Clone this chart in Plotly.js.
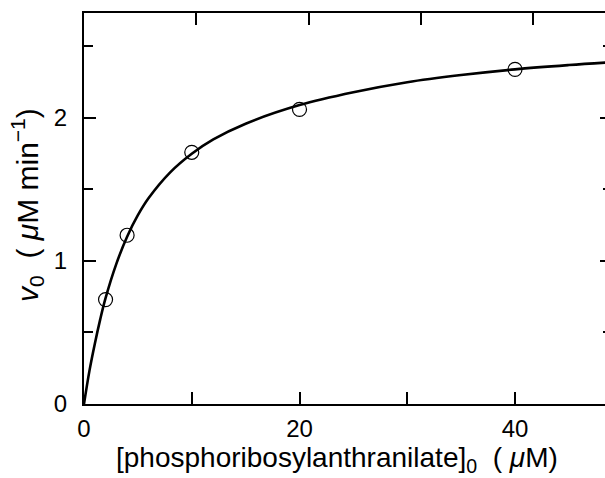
<!DOCTYPE html>
<html>
<head>
<meta charset="utf-8">
<script src="https://cdn.plot.ly/plotly-3.0.1.min.js"></script>
<style>
html, body { margin: 0; padding: 0; overflow: hidden; background: #fff; }
#chart { width: 625px; height: 478px; }
</style>
</head>
<body>
<div id="chart"></div>
<script>
// Measured points
const substrate = [2, 4, 10, 20, 40];
const rate = [0.73, 1.18, 1.76, 2.06, 2.34];

// Fitted curve
const curveX = [0, 0.5, 1, 1.5, 2, 3, 4, 5, 6, 8, 10, 12, 15, 20, 25, 30, 35, 40, 45, 49];
const curveY = [0, 0.23, 0.42, 0.59, 0.74, 0.98, 1.17, 1.32, 1.44, 1.62, 1.75, 1.85, 1.96, 2.09, 2.18, 2.25, 2.30, 2.34, 2.37, 2.39];

// Tick labels / positions
const xLabelStep = 20;
const xMinorStep = 10;
const topTickVals = [10, 20, 30, 40];
const yLabelStep = 1;
const yMinorStep = 0.5;

const FONT = 'Liberation Sans, Arial, Helvetica, sans-serif';

const traces = [
  {
    x: curveX, y: curveY, type: 'scatter', mode: 'lines',
    line: { color: '#000', width: 2.6, shape: 'spline' },
    hoverinfo: 'skip', showlegend: false
  },
  {
    x: substrate, y: rate, type: 'scatter', mode: 'markers',
    marker: { symbol: 'circle-open', size: 14, color: '#000', line: { width: 1.2, color: '#000' } },
    showlegend: false
  },
  {
    x: [], y: [], xaxis: 'x2', yaxis: 'y', type: 'scatter', mode: 'markers',
    hoverinfo: 'skip', showlegend: false
  }
];

const layout = {
  width: 625, height: 478,
  margin: { l: 84, r: 13, t: 13, b: 74 },
  paper_bgcolor: '#fff', plot_bgcolor: '#fff',
  font: { family: FONT, size: 24, color: '#000' },
  showlegend: false,
  xaxis: {
    range: [0, 49],
    tick0: 0, dtick: xLabelStep,
    ticks: 'inside', ticklen: 12, tickwidth: 2, tickcolor: '#000',
    minor: { tick0: 0, dtick: xMinorStep, ticks: 'inside', ticklen: 12, tickwidth: 2, tickcolor: '#000', showgrid: false },
    showline: true, linewidth: 2, linecolor: '#000',
    showgrid: false, zeroline: false, mirror: false,
    ticklabelstandoff: 2,
    tickfont: { family: FONT, size: 24, color: '#000' }
  },
  xaxis2: {
    overlaying: 'x', side: 'top', range: [0, 47],
    tickvals: topTickVals, showticklabels: false,
    ticks: 'inside', ticklen: 12, tickwidth: 2, tickcolor: '#000',
    showline: true, linewidth: 2, linecolor: '#000',
    showgrid: false, zeroline: false
  },
  yaxis: {
    range: [0, 2.734],
    tick0: 0, dtick: yLabelStep,
    ticks: 'inside', ticklen: 12, tickwidth: 2, tickcolor: '#000',
    minor: { tick0: 0, dtick: yMinorStep, ticks: 'inside', ticklen: 9, tickwidth: 2, tickcolor: '#000', showgrid: false },
    showline: true, linewidth: 2, linecolor: '#000',
    showgrid: false, zeroline: false, mirror: 'ticks',
    ticklabelstandoff: 10,
    tickfont: { family: FONT, size: 24, color: '#000' }
  },
  annotations: [
    {
      xref: 'paper', yref: 'paper', x: 0.48, y: -0.141,
      xanchor: 'center', yanchor: 'middle', showarrow: false,
      text: '[phosphoribosylanthranilate]<sub>0</sub>&nbsp;&nbsp;(&nbsp;<i>μ</i>M)',
      font: { family: FONT, size: 28, color: '#000' }
    },
    {
      xref: 'paper', yref: 'paper', x: -0.108, y: 0.509,
      xanchor: 'center', yanchor: 'middle', showarrow: false, textangle: -90,
      text: '<i>v</i><sub>0</sub>&nbsp;&nbsp;(&nbsp;<i>μ</i>M min<sup>−1</sup>)',
      font: { family: FONT, size: 30, color: '#000' }
    }
  ]
};

Plotly.newPlot('chart', traces, layout, { displayModeBar: false, staticPlot: true });
</script>
</body>
</html>
